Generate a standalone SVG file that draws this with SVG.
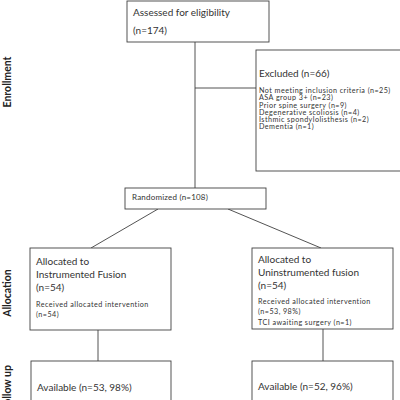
<svg xmlns="http://www.w3.org/2000/svg" width="400" height="400" viewBox="0 0 400 400">
<style>
.box{fill:#fff;stroke:#404040;stroke-width:0.9}
.ln{stroke:#404040;stroke-width:0.9;fill:none}
text{font-family:Lato,"Liberation Sans",sans-serif;fill:#333}
.m{font-size:10px}
.s{font-size:7.2px;letter-spacing:0.45px}
.r{font-size:8px;letter-spacing:0.2px}
.lab{font-size:10.5px;font-weight:bold;fill:#222}
</style>
<rect width="400" height="400" fill="#fff"/>
<g id="connectors">
<line class="ln" x1="195" y1="42" x2="195" y2="188"/>
<line class="ln" x1="195" y1="88" x2="256" y2="88"/>
<line class="ln" x1="158" y1="209" x2="91" y2="248"/>
<line class="ln" x1="228" y1="209" x2="321" y2="248"/>
<line class="ln" x1="98" y1="330" x2="98" y2="361"/>
<line class="ln" x1="323" y1="329" x2="323" y2="361"/>
</g>
<g id="labels">
<text class="lab" transform="translate(11,82) rotate(-90)" text-anchor="middle">Enrollment</text>
<text class="lab" transform="translate(11,293) rotate(-90)" text-anchor="middle">Allocation</text>
<text class="lab" transform="translate(11,365) rotate(-90)" text-anchor="end">Follow up</text>
</g>
<g id="assessed">
<rect class="box" x="127" y="1" width="142" height="41"/>
<text class="m" x="133" y="15.5">Assessed for eligibility</text>
<text class="m" x="133" y="33.5">(n=174)</text>
</g>
<g id="excluded">
<rect class="box" x="256" y="50" width="150" height="121"/>
<text class="m" x="259" y="76.5">Excluded (n=66)</text>
<text class="s" x="259" y="93.3">Not meeting inclusion criteria (n=25)</text>
<text class="s" x="259" y="100.4">ASA group 3+ (n=23)</text>
<text class="s" x="259" y="107.5">Prior spine surgery (n=9)</text>
<text class="s" x="259" y="114.6">Degenerative scoliosis (n=4)</text>
<text class="s" x="259" y="121.7">Isthmic spondylolisthesis (n=2)</text>
<text class="s" x="259" y="128.8">Dementia (n=1)</text>
</g>
<g id="randomized">
<rect class="box" x="125" y="188" width="141" height="21"/>
<text class="r" x="132" y="200">Randomized (n=108)</text>
</g>
<g id="alloc-instrumented">
<rect class="box" x="30" y="248" width="141" height="82"/>
<text class="m" x="36" y="264.5">Allocated to</text>
<text class="m" x="36" y="277.5">Instrumented Fusion</text>
<text class="m" x="36" y="290.5">(n=54)</text>
<text class="s" x="36" y="306.5">Received allocated intervention</text>
<text class="s" x="36" y="316.5">(n=54)</text>
</g>
<g id="alloc-uninstrumented">
<rect class="box" x="252" y="248" width="141" height="81"/>
<text class="m" x="258" y="262.5">Allocated to</text>
<text class="m" x="258" y="275.5">Uninstrumented fusion</text>
<text class="m" x="258" y="288.5">(n=54)</text>
<text class="s" x="258" y="303.5">Received allocated intervention</text>
<text class="s" x="258" y="313.5">(n=53, 98%)</text>
<text class="s" x="258" y="324.5">TCI awaiting surgery (n=1)</text>
</g>
<g id="followup-instrumented">
<rect class="box" x="31" y="361" width="140" height="50"/>
<text class="m" x="37" y="390.5">Available (n=53, 98%)</text>
</g>
<g id="followup-uninstrumented">
<rect class="box" x="252" y="361" width="141" height="50"/>
<text class="m" x="258" y="389.5">Available (n=52, 96%)</text>
</g>
</svg>
